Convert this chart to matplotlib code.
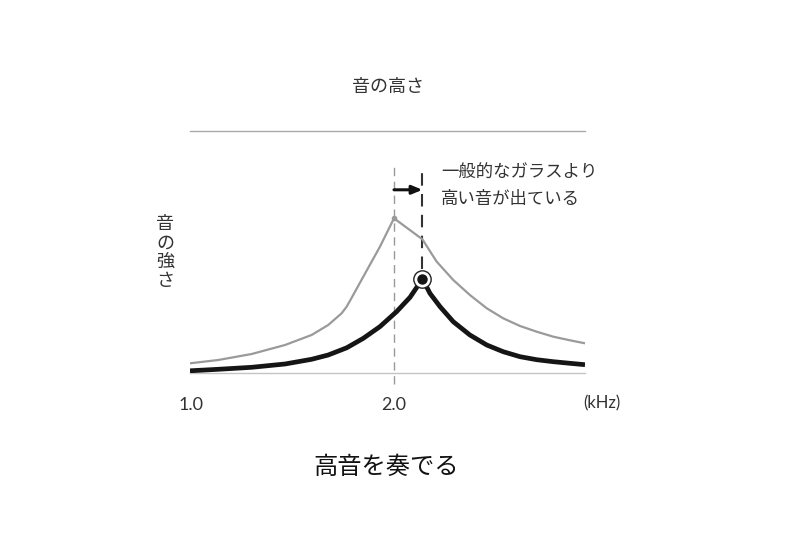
import matplotlib
matplotlib.use('Agg')
import matplotlib.pyplot as plt

plt.rcParams['font.family'] = ['Noto Sans CJK JP', 'DejaVu Sans']

# frequency (kHz) / intensity (arbitrary units)
glass_f = [0.995, 1.134, 1.299, 1.463, 1.594, 1.676, 1.742, 1.767, 1.79, 1.849,
           1.931, 2.0, 2.14, 2.21, 2.292, 2.374, 2.457, 2.538, 2.621, 2.703,
           2.785, 2.867, 2.941]
glass_i = [10, 13.3, 19.3, 28.3, 38.3, 48.3, 60, 66.7, 75, 96.7,
           126.7, 155, 134, 111.7, 93.3, 78.3, 65, 55, 47.3, 41.6,
           36.6, 33, 30]

new_f = [0.995, 1.134, 1.299, 1.463, 1.594, 1.676, 1.767, 1.849, 1.931, 2.013,
         2.079, 2.12, 2.14, 2.177, 2.227, 2.292, 2.374, 2.457, 2.538, 2.621,
         2.703, 2.785, 2.867, 2.941]
new_i = [2.5, 4, 6, 9.3, 14, 18.3, 25.5, 35, 46.7, 61.7,
         76, 88.3, 94.7, 80, 66.6, 51.6, 38.3, 28.3, 21.6, 16.6,
         13.6, 11.6, 10, 8.6]

glass_peak = 2.0
new_peak = 2.14
xticks = [1.0, 2.0]
xtick_labels = ['1.0', '2.0']

fig = plt.figure(figsize=(8, 5.52), dpi=100)
ax = fig.add_axes([190 / 800, 1 - 373.3 / 552, 395 / 800, (373.3 - 131) / 552])
ax.set_xlim(0.995, 2.941)
ax.set_ylim(0, 242.3)

for side in ['left', 'right']:
    ax.spines[side].set_visible(False)
ax.spines['bottom'].set_color('#c4c4c4')
ax.spines['top'].set_color('#aaaaaa')
ax.spines['bottom'].set_linewidth(1.0)
ax.spines['top'].set_linewidth(1.0)
ax.set_yticks([])
ax.set_xticks(xticks)
ax.set_xticklabels(xtick_labels, family=['Lato', 'DejaVu Sans'], fontsize=13,
                   color='#333333')
ax.tick_params(axis='x', length=0, pad=17)

# vertical guide lines
ax.plot([glass_peak, glass_peak], [-11, 208], color='#999999', lw=1.0,
        ls=(0, (6, 4)), clip_on=False, zorder=1)
ax.plot([new_peak, new_peak], [104, 208], color='#333333', lw=1.5,
        ls=(0, (6, 4)), clip_on=False, zorder=1)

ax.plot(glass_f, glass_i, color='#9a9a9a', lw=1.6, zorder=2)
ax.plot(new_f, new_i, color='#151515', lw=3.4, solid_capstyle='butt',
        solid_joinstyle='round', zorder=3)

peak_i = new_i[new_f.index(new_peak)]
ax.plot([new_peak], [peak_i], 'o', ms=12.5, mfc='white', mec='#222222',
        mew=1.0, zorder=4)
ax.plot([new_peak], [peak_i], 'o', ms=6.5, color='#151515', zorder=5)
ax.plot([glass_peak], [glass_i[glass_f.index(glass_peak)]], 'o', ms=3,
        color='#9a9a9a', zorder=2)

# arrow between the two peaks
ax.annotate('', xy=(new_peak, 183.5), xytext=(glass_peak, 183.5),
            arrowprops=dict(arrowstyle='-|>,head_length=0.6,head_width=0.25',
                            color='#111111', lw=2.2, shrinkA=0, shrinkB=0),
            annotation_clip=False)

fig.text(441 / 800, 1 - 186 / 552, '一般的なガラスより\n高い音が出ている',
         fontsize=12.5, color='#333333', ha='left', va='center', linespacing=1.55)

ax.text(0.995, -0.125, '(kHz)', transform=ax.transAxes, fontsize=12,
        family=['Lato', 'DejaVu Sans'], color='#333333', ha='left', va='center')

fig.text(388 / 800, 1 - 87 / 552, '音の高さ', fontsize=13, color='#333333',
         ha='center', va='center')
fig.text(165 / 800, 1 - 252.5 / 552, '音\nの\n強\nさ', fontsize=13,
         color='#333333', ha='center', va='center', linespacing=1.05)
fig.text(386 / 800, 1 - 467 / 552, '高音を奏でる', fontsize=17.5, color='#111111',
         ha='center', va='center')

fig.savefig('out.png', dpi=100, facecolor='white')
